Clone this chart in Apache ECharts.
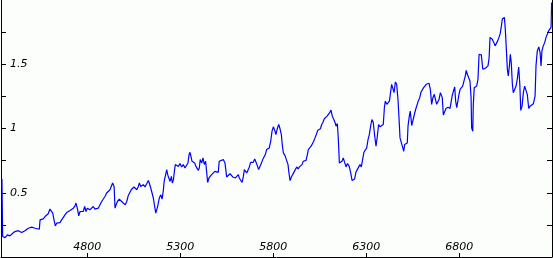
<!DOCTYPE html>
<html>
<head>
<meta charset="utf-8">
<script src="https://cdn.jsdelivr.net/npm/echarts@6/dist/echarts.min.js"></script>
<style>
html,body{margin:0;padding:0;background:#fcfefc;}
#chart{width:553px;height:258px;}
</style>
</head>
<body>
<div id="chart"></div>
<script>
// x positions (index units) and values
const xValues = [
4341,4345,4358,4370,4384,4399,4411,4429,4438,4447,4456,4465,4474,4483,4492,4501,4510,4519,4528,4542,
4546,4555,4563,4573,4582,4590,4599,4609,4614,4621,4628,4635,4644,4653,4662,4671,4680,4689,4698,4707,
4716,4725,4734,4739,4746,4754,4761,4770,4778,4786,4793,4800,4807,4814,4824,4832,4841,4850,4859,4868,
4877,4886,4895,4904,4913,4922,4931,4936,4944,4949,4955,4962,4972,4981,4990,4998,5004,5012,5020,5029,
5036,5044,5051,5058,5066,5073,5080,5087,5094,5101,5110,5119,5128,5133,5141,5148,5155,5162,5168,5173,
5178,5187,5195,5202,5209,5213,5219,5227,5232,5238,5245,5252,5257,5263,5268,5273,5281,5289,5298,5307,
5316,5325,5334,5341,5347,5352,5357,5363,5370,5377,5384,5391,5397,5402,5407,5415,5422,5429,5436,5442,
5447,5454,5461,5468,5477,5486,5495,5504,5509,5518,5531,5540,5549,5558,5567,5576,5582,5589,5596,5603,
5612,5617,5625,5632,5639,5644,5651,5657,5664,5671,5678,5685,5692,5700,5707,5714,5721,5728,5735,5743,
5750,5757,5764,5771,5778,5786,5793,5800,5807,5814,5821,5829,5836,5843,5848,5854,5863,5872,5879,5884,
5890,5897,5904,5911,5918,5926,5933,5940,5947,5954,5961,5969,5976,5983,5988,5996,6003,6010,6017,6024,
6031,6039,6046,6053,6060,6067,6074,6082,6089,6096,6103,6110,6117,6125,6132,6137,6144,6149,6155,6162,
6169,6176,6184,6191,6198,6203,6208,6216,6223,6230,6237,6244,6251,6259,6266,6273,6280,6287,6294,6302,
6309,6316,6323,6330,6337,6345,6352,6359,6366,6373,6383,6391,6397,6402,6410,6417,6424,6431,6436,6443,
6449,6456,6463,6470,6476,6481,6488,6496,6501,6506,6513,6520,6524,6531,6536,6544,6551,6558,6565,6572,
6579,6587,6594,6601,6608,6615,6622,6630,6637,6644,6651,6658,6665,6673,6678,6685,6691,6698,6703,6708,
6714,6721,6728,6739,6750,6761,6768,6775,6780,6786,6793,6798,6804,6810,6818,6825,6832,6837,6843,6850,
6857,6863,6866,6872,6875,6880,6886,6893,6900,6906,6911,6918,6926,6933,6940,6947,6954,6960,6965,6970,
6977,6985,6992,6999,7006,7013,7020,7026,7031,7036,7042,7047,7053,7058,7063,7069,7074,7079,7085,7090,
7098,7105,7112,7119,7125,7130,7137,7144,7151,7158,7165,7173,7180,7189,7198,7207,7212,7219,7227,7234,
7239,7244,7251,7259,7266,7273,7280,7287,7293,7296
];
const yValues = [
0.607,0.159,0.151,0.172,0.164,0.185,0.198,0.205,0.216,0.190,0.177,0.205,0.211,0.224,0.211,0.232,0.224,0.224,0.219,0.216,
0.289,0.302,0.297,0.315,0.320,0.336,0.373,0.380,0.341,0.289,0.242,0.263,0.276,0.268,0.289,0.295,0.328,0.346,0.354,0.362,
0.373,0.380,0.398,0.420,0.380,0.320,0.354,0.362,0.354,0.393,0.354,0.380,0.388,0.367,0.380,0.393,0.373,0.367,0.380,0.393,
0.432,0.445,0.471,0.498,0.502,0.523,0.537,0.576,0.549,0.380,0.406,0.432,0.451,0.451,0.424,0.414,0.406,0.432,0.477,0.466,
0.523,0.529,0.545,0.560,0.523,0.545,0.576,0.549,0.537,0.563,0.545,0.570,0.596,0.576,0.537,0.545,0.459,0.393,0.341,0.367,
0.393,0.459,0.484,0.451,0.523,0.588,0.627,0.680,0.641,0.615,0.588,0.627,0.576,0.602,0.666,0.719,0.732,0.705,0.727,0.701,
0.719,0.693,0.680,0.732,0.797,0.815,0.784,0.745,0.758,0.732,0.705,0.701,0.674,0.693,0.758,0.732,0.771,0.719,0.745,0.654,
0.580,0.615,0.627,0.641,0.654,0.666,0.674,0.659,0.745,0.758,0.758,0.732,0.623,0.633,0.648,0.659,0.623,0.633,0.615,0.627,
0.641,0.615,0.607,0.580,0.627,0.680,0.693,0.654,0.641,0.701,0.737,0.752,0.737,0.763,0.737,0.711,0.680,0.705,0.727,0.758,
0.771,0.797,0.836,0.823,0.849,0.901,0.979,1.013,0.987,0.953,0.998,1.031,0.998,0.953,0.875,0.810,0.789,0.779,0.719,0.654,
0.594,0.623,0.641,0.648,0.680,0.701,0.685,0.701,0.688,0.719,0.745,0.745,0.752,0.797,0.836,0.836,0.862,0.867,0.901,0.927,
0.953,0.987,0.992,0.998,1.031,1.049,1.076,1.070,1.096,1.084,1.123,1.143,1.096,1.070,1.045,1.018,1.039,0.927,0.732,0.719,
0.745,0.771,0.732,0.701,0.727,0.737,0.705,0.654,0.596,0.602,0.607,0.659,0.680,0.666,0.719,0.701,0.758,0.815,0.805,0.849,
0.914,0.953,1.018,1.070,1.049,0.940,0.862,0.940,1.031,1.013,1.005,1.031,1.162,1.213,1.188,1.201,1.213,1.227,1.344,1.357,
1.279,1.362,1.344,1.227,1.070,0.927,0.914,0.849,0.823,0.875,0.862,0.888,1.018,1.096,1.135,1.023,1.031,1.109,1.148,1.154,
1.213,1.240,1.284,1.291,1.318,1.330,1.344,1.330,1.352,1.305,1.188,1.240,1.266,1.279,1.188,1.180,1.227,1.279,1.284,1.240,
1.105,1.096,1.156,1.166,1.156,1.252,1.291,1.323,1.213,1.162,1.148,1.266,1.305,1.297,1.330,1.370,1.409,1.453,1.422,1.396,
1.370,1.240,1.005,0.979,1.188,1.318,1.330,1.330,1.383,1.578,1.591,1.573,1.461,1.448,1.469,1.474,1.487,1.552,1.709,1.721,
1.695,1.670,1.643,1.656,1.682,1.709,1.740,1.799,1.852,1.838,1.865,1.773,1.604,1.461,1.409,1.487,1.578,1.513,1.344,1.279,
1.271,1.330,1.391,1.479,1.344,1.141,1.174,1.279,1.330,1.344,1.266,1.156,1.174,1.188,1.193,1.252,1.487,1.604,1.635,1.591,
1.487,1.604,1.643,1.670,1.709,1.721,1.760,1.773,1.787,1.980
];
const xTickLabels = [4800, 5300, 5800, 6300, 6800];
const yTickLabels = [0.5, 1, 1.5];
const yTicks = [0.25, 0.5, 0.75, 1, 1.25, 1.5, 1.75];

const chart = echarts.init(document.getElementById('chart'), null, {renderer: 'canvas'});
const font = {fontFamily: 'DejaVu Sans', fontStyle: 'italic', fontSize: 11, color: '#000'};
const plain = v => String(v);
const lineData = xValues.map((x, i) => [x, yValues[i]]);
chart.setOption({
  backgroundColor: '#fcfefc',
  animation: false,
  grid: {left: 1, right: 1, top: 0, bottom: 1, containLabel: false},
  xAxis: [{
    type: 'value', min: 4336, max: 7298, position: 'bottom',
    axisLine: {show: true, onZero: false, lineStyle: {color: '#000', width: 1}},
    axisTick: {show: true, inside: true, length: 4, customValues: xTickLabels, lineStyle: {color: '#000'}},
    axisLabel: Object.assign({show: true, inside: true, margin: 4, customValues: xTickLabels, formatter: plain}, font),
    splitLine: {show: false}
  }, {
    type: 'value', min: 4336, max: 7298, position: 'top',
    axisLine: {show: false},
    axisTick: {show: true, inside: true, length: 4, customValues: xTickLabels, lineStyle: {color: '#000'}},
    axisLabel: {show: false},
    splitLine: {show: false}
  }],
  yAxis: [{
    type: 'value', min: 0, max: 2, position: 'left',
    axisLine: {show: true, onZero: false, lineStyle: {color: '#000', width: 1}},
    axisTick: {show: true, inside: true, length: 5, customValues: yTicks, lineStyle: {color: '#000'}},
    axisLabel: Object.assign({show: true, inside: true, margin: 9, customValues: yTickLabels, formatter: plain}, font),
    splitLine: {show: false}
  }, {
    type: 'value', min: 0, max: 2, position: 'right',
    axisLine: {show: true, onZero: false, lineStyle: {color: '#000', width: 1}},
    axisTick: {show: true, inside: true, length: 5, customValues: yTicks, lineStyle: {color: '#000'}},
    axisLabel: {show: false},
    splitLine: {show: false}
  }],
  series: [{
    type: 'line', data: lineData, xAxisIndex: 0, yAxisIndex: 0,
    showSymbol: false, symbol: 'none',
    lineStyle: {color: '#0000ff', width: 1.2},
    clip: true
  }]
});
</script>
</body>
</html>
